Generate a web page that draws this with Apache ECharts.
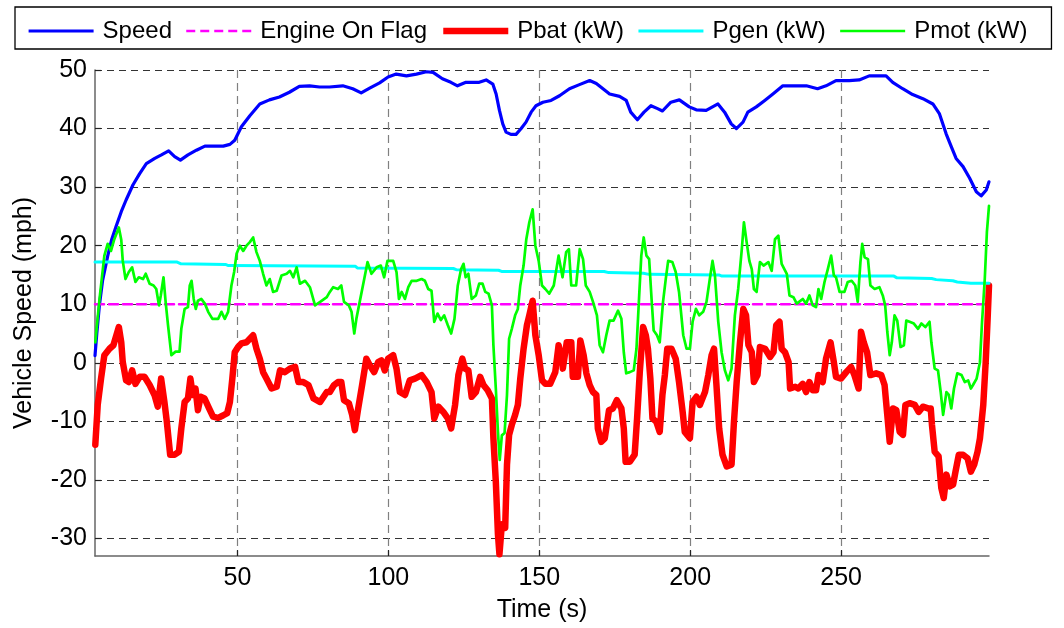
<!DOCTYPE html>
<html>
<head>
<meta charset="utf-8">
<script src="https://cdn.jsdelivr.net/npm/echarts@6/dist/echarts.min.js"></script>
<style>html,body{margin:0;padding:0;background:#fff}#c{width:1064px;height:628px}</style>
</head>
<body>
<div id="c"></div>
<script>
// ---- data: [time (s), value] ----
const seriesNames = ['Speed', 'Engine On Flag', 'Pbat (kW)', 'Pgen (kW)', 'Pmot (kW)'];
const xTicks = [50, 100, 150, 200, 250];
const yTicks = [-30, -20, -10, 0, 10, 20, 30, 40, 50];

const speed = [[2.8,1.2],[3.4,5],[4.3,10],[5.3,14],[7.0,18.2],[8.3,21],[9.8,23.3],[11.5,25.8],[13.1,27.8],[15.4,30.4],[17.6,32.3],[19.8,34],[22.6,34.9],[24.8,35.5],[27.2,36.2],[29.2,35.2],[31.1,34.6],[33.6,35.5],[36.4,36.3],[39.2,37],[41.9,37],[45.3,37],[47.5,37.3],[49.1,38],[51.3,40.3],[54.1,42.2],[57.4,44.2],[60.6,44.9],[63.9,45.4],[67.2,46.2],[70.5,47.2],[73.9,47.3],[77.2,47.1],[80.5,47.1],[84.9,47.3],[88.2,46.8],[91.0,46.1],[93.8,46.9],[97.1,47.8],[99.9,48.8],[102.6,49.3],[106.0,49],[109.3,49.3],[112.6,49.7],[114.8,49.6],[117.9,48.5],[120.7,47.9],[122.9,47.3],[125.7,47.9],[130.1,47.9],[132.4,48.3],[134.6,47.6],[135.7,45.9],[136.8,43.1],[137.9,40.8],[139.0,39.4],[140.6,39],[142.3,39],[144.0,40],[145.6,41.1],[147.3,42.8],[148.9,43.9],[151.2,44.5],[153.9,44.8],[156.7,45.6],[160.0,46.8],[163.3,47.5],[166.7,48.2],[168.9,47.7],[171.1,46.8],[173.3,45.9],[176.6,45.5],[178.8,44.8],[180.3,42.8],[182.5,41.5],[184.7,42.8],[187.0,43.9],[189.2,43.4],[190.8,43],[193.6,44.5],[196.4,44.9],[199.7,43.7],[202.0,43.2],[205.3,43.1],[209.2,44.2],[211.4,42.8],[213.6,40.8],[215.3,40],[217.5,41.1],[219.1,42.8],[221.9,43.7],[224.7,44.8],[227.4,45.9],[230.7,47.3],[234.1,47.3],[238.5,47.3],[242.2,46.8],[245.0,47.3],[248.3,48.2],[252.7,48.2],[256.0,48.3],[259.3,49],[264.9,49],[267.1,47.9],[270.4,46.8],[273.7,45.8],[277.1,45.1],[280.4,44.2],[282.6,42.5],[284.8,39.1],[286.5,36.9],[288.1,34.9],[290.4,33.5],[292.6,31.5],[294.8,29.2],[296.4,28.5],[298.1,29.5],[299.0,30.9]];

const engineOn = [[2.8,10],[299,10]];

const pbat = [[2.9,-14],[3.7,-7.2],[4.8,-2.7],[5.9,1.3],[7.6,2.4],[8.9,3],[10.7,6.1],[11.5,3.5],[12,0.1],[13.1,-3],[14,-3.3],[15.1,-1.3],[16.2,-3.6],[17.6,-2.4],[19.2,-2.4],[20.9,-3.8],[22.5,-5.5],[23.6,-7.5],[24.7,-2.7],[25.8,-6.7],[26.6,-10.1],[27.7,-15.7],[29.2,-15.7],[30.6,-15.2],[31.4,-11.2],[32.5,-6.7],[33.6,-6.1],[34.4,-2.7],[35.2,-5.5],[36.1,-4.4],[36.9,-8.1],[37.8,-5.8],[39.1,-6.1],[40.6,-7.8],[41.9,-9.2],[43.6,-9.4],[45.2,-9],[46.6,-8.6],[47.5,-6.7],[48.3,-2.7],[49.1,1.8],[50.2,2.7],[51.3,3.3],[53,3.5],[54.1,4.1],[55.2,4.7],[56.3,2.4],[57.4,0.7],[58.5,-1.6],[59.6,-2.7],[61.3,-4.4],[63,-4.1],[64.1,-1.3],[65.7,-1.6],[67.4,-1],[69.1,-0.7],[70.2,-3.3],[71.8,-3.3],[73.5,-3.8],[75.2,-6.1],[77.4,-6.7],[79.6,-5],
[80.6,-5],[82,-3.8],[83.3,-3.3],[84.4,-3.3],[85.3,-6.4],[86.9,-6.9],[88,-8.9],[88.9,-11.5],[90,-7.8],[91.3,-3.8],[92.7,0.7],[93.8,-0.4],[95.3,-1.6],[96.6,0.1],[97.7,0.4],[98.8,-1.3],[99.9,0.7],[101.6,1.3],[102.7,-1],[103.8,-5],[105.5,-5.5],[107.1,-3],[108.8,-2.7],[111,-2.1],[112.7,-3.3],[114.3,-5],[115.2,-9.5],[116.6,-7.5],[118.2,-8.4],[119.7,-9.5],[120.8,-11.2],[122.1,-7.2],[123.2,-2.1],[124.5,0.7],[125.4,-1],[126.5,-1.3],[127.6,-5.8],[129,-5],[130.4,-2.4],[131.5,-3.8],[132.9,-4.7],[134.3,-6.1],[134.8,-12.9],[135.6,-20.3],[136.3,-29.3],[136.8,-32.7],[137.6,-27.6],[138.7,-28.2],[139.3,-17.4],[140,-12.3],[140.9,-10.6],[142,-8.9],[142.9,-7.2],[143.7,-2.7],[144.8,2.4],[145.9,6.4],[146.7,8.1],[147.8,10.6],[148.7,4.7],[149.8,1.3],[150.9,-3],[152,-3.6],[153.6,-3.6],[155.3,-1.6],[156.4,3],[157.7,0.1],
[157.8,-1],[159.1,3.5],[160.6,3.5],[161.1,-2.4],[162.8,-2.4],[163.6,3.8],[164.7,1.3],[165.6,-1.8],[166.7,-3.8],[167.8,-5],[168.9,-5.5],[169.4,-11.2],[170.5,-13.5],[171.7,-12.9],[173.1,-8.1],[174.4,-7.8],[175.7,-6.4],[177.2,-7.8],[178,-11.2],[178.6,-16.9],[180,-16.9],[181.6,-15.7],[182.4,-9.5],[183.3,-1.6],[184.4,6.1],[185.3,4.7],[186,2.4],[186.8,-2.7],[187.5,-9.5],[188.8,-10.1],[189.9,-11.8],[190.8,-5.5],[191.6,-2.1],[192.4,2.4],[193.8,2.4],[195.2,0.7],[196.3,-3.3],[197.5,-8.4],[198.2,-11.8],[199.9,-12.9],[200.8,-6.7],[202.1,-5.8],[203.2,-7.2],[204.9,-5],[206,-2.1],[207.1,1.3],[207.9,2.4],[208.7,-3.8],[209.6,-11.2],[210.7,-15.7],[212.1,-17.7],[213.7,-17.4],[214.5,-10.1],[215.4,-3.3],[216.5,3.5],[217.6,9.2],[218.5,8.1],[219.3,3],[220.4,1.8],[221.1,-3.3],[222.3,-2.1],[223.1,2.7],[224.8,2.4],[226.5,1],[227.6,1.8],[228.5,6.4],[229.6,7],[230.3,2.4],[231.4,1.8],[232.6,0.1],[233.1,-4.4],[234.8,-4.1],
[235.8,-4.4],[237.3,-3.6],[238.4,-5],[239.5,-3.3],[240.6,-4.7],[241.7,-4.7],[242.5,-2.1],[243.9,-3.3],[245,0.7],[246.5,3.5],[247.6,0.1],[248.3,-2.4],[250,-2.7],[251.7,-1.6],[253.3,-0.7],[254.4,-2.1],[255.8,-4.4],[256.6,5.3],[257.5,3.5],[258.6,1.8],[259.7,-2.1],[261.6,-1.8],[263.3,-2.1],[264.4,-3.8],[265.3,-8.9],[266.1,-13.5],[267.2,-7.8],[268.3,-8.1],[269.4,-11.8],[270.5,-12.3],[271.3,-7.2],[272.7,-6.9],[274.4,-7.2],[275.7,-8.4],[277.1,-7.5],[278.8,-7.8],[279.7,-7.8],[280.1,-10.6],[281,-15.2],[282.3,-16],[283.2,-21.4],[284,-23.1],[284.9,-19.1],[286,-21.1],[287.1,-20.8],[287.9,-18.6],[289,-15.7],[290.4,-15.7],[291.9,-16.3],[293,-18.6],[294.1,-17.4],[295.2,-15.2],[296,-12.9],[297.1,-7.2],[297.9,0.1],[298.5,7],[299,13.2]];

const pgen = [[2.8,17.2],[30,17.2],[31.3,16.9],[46,16.8],[47,16.6],[89,16.5],[89.7,16.2],[121.5,16.1],[122.5,15.9],[136.5,15.8],[137.5,15.6],[171.5,15.6],[173,15.4],[184.5,15.3],[186.3,15.1],[209.5,15],[210.5,14.8],[267.5,14.8],[268.5,14.5],[280,14.4],[281.5,14.2],[287,14],[288.5,13.8],[293,13.6],[299,13.6]];

const pmot = [[2.9,3.5],[4.3,10.9],[5.9,18.3],[7,20.3],[8.1,19.1],[9.2,21.1],[10.7,23.1],[11.5,21],[12,17.4],[12.9,14.3],[14,15.5],[15.1,16.3],[16.2,13.8],[17.3,14.6],[18.7,14.3],[19.6,15.2],[20.9,13.5],[22.2,13.2],[23.1,12.6],[24,9.8],[24.6,11.5],[25.5,14.6],[26.2,10.4],[27,6.4],[28.1,1.3],[29.5,1.9],[30.8,1.9],[31.4,5.8],[32.5,9.2],[33.6,9.5],[34.2,13.2],[34.8,14],[35.5,10.9],[36.2,9.2],[36.9,10.6],[38,10.9],[39.2,10.1],[40.3,8.7],[41.7,7.5],[43.6,7.5],[44.7,8.7],[45.8,7.5],[46.9,8.7],[48,13.2],[48.9,15.5],[49.7,18.6],[50.8,20],[51.9,19.1],[53,20],[54.1,20.6],[55.2,21.4],[56.3,18.9],[57.4,17.4],[58.5,15.2],[59.6,13.2],[60.7,14.3],[61.8,12.1],[63,12.3],[64.6,14.9],[66.3,15.2],[67.4,15.7],[68.5,14.6],[69.6,16.3],[70.7,13.5],[72.4,14],[74,12.9],[75.7,9.8],[77.4,10.4],[79.6,11.2],
[80.6,12.1],[81.7,12.9],[83.3,12.6],[84.4,13.2],[85.3,10.4],[86.9,9.8],[87.8,8.7],[88.7,5],[89.4,7.5],[90.5,10.4],[92,14.3],[93.1,17.2],[94.4,15.2],[96.1,16.3],[97.5,16.6],[98.6,14.6],[99.7,17.4],[101.6,17.4],[102.7,15.5],[103.5,10.9],[104.4,12.1],[105.5,10.9],[106.6,12.9],[107.7,14],[109.4,14],[111,14.3],[112.1,14],[113.2,12.6],[114.3,12.3],[115.2,7],[116.3,8.4],[117.4,7.3],[118.5,8.1],[119.7,6.4],[120.8,5],[121.9,7.5],[123,13.2],[124.1,16],[124.9,16.9],[125.6,14.6],[126.5,15.2],[127.6,10.9],[129,11.5],[130.1,13.5],[131.2,13.5],[132.1,12.1],[133.2,11.8],[134.3,9.8],[134.8,3],[135.6,-4.4],[136.3,-11.8],[136.9,-16.6],[137.6,-12.4],[138.5,-12],[139.3,-5.5],[140,4.1],[140.9,5.8],[142,8.1],[142.9,9.2],[143.7,13.2],[144.8,16.6],[145.7,21.1],[146.7,24],[147.8,26.2],[148.7,20],[149.8,17.4],[150.9,13.2],[152,12.6],[153.3,11.8],[154.8,13.2],[156.4,18.3],[157.7,14.6],
[158.9,18.9],[159.8,19.4],[160.6,13.2],[162.2,13.2],[163.4,19.4],[164.5,17.7],[165.4,13.2],[166.7,12.1],[167.8,10.4],[169.1,8.1],[170,3],[171.1,1.8],[172.2,4.7],[173.3,7.2],[174.6,7.2],[176.1,8.9],[177.2,7.5],[178,1.8],[178.8,-1.8],[180,-1.6],[181.3,-1.3],[182.2,2.4],[183.1,11.5],[183.8,18.3],[184.6,21.4],[185.5,18.3],[186.4,17.7],[187.2,10.9],[187.9,5.5],[189,4.7],[189.9,3.5],[191,10.4],[191.9,14.3],[192.7,17.4],[194.1,17.2],[195.2,15.5],[196.3,12.1],[197.7,4.7],[198.8,2.4],[199.9,2.4],[200.8,7],[201.9,9.2],[203,8.1],[204.3,8.7],[205.4,10.4],[206.5,14.3],[207.4,17.4],[208.2,14.9],[209.3,7],[210.4,1.8],[211.5,-1.3],[212.6,-3],[213.7,-1],[214.8,8.1],[215.9,12.6],[217.1,19.4],[217.8,24],[218.7,20.6],[219.6,17.4],[220.4,16],[221.1,12.6],[222,12.1],[223.1,17.2],[224.3,16.6],[225.9,17.2],[227,15.7],[228.1,21.1],[229.2,21.7],[230.3,16.9],[232,15.2],[232.9,11.5],[234.2,11.2],[235.3,10.1],
[235.8,10.1],[237.3,10.9],[238.4,10.1],[239.5,11.5],[240.6,9.8],[241.7,9.5],[242.5,12.6],[243.4,10.9],[244.5,13.8],[245.6,16],[246.7,18.3],[247.6,14.9],[248.3,14.6],[249.5,12.1],[251.1,12.1],[252.2,13.8],[253.5,14],[254.7,13.2],[255.5,10.4],[256.4,17.2],[257,20.3],[257.8,18],[258.9,17.7],[259.7,13.2],[261.1,12.6],[262.7,12.9],[263.8,11.5],[264.6,9.8],[265.3,5.3],[266.1,1.3],[266.8,3.5],[267.7,8.1],[268.6,7.2],[269.7,2.7],[270.8,3],[271.6,7.2],[272.7,7],[274.1,6.7],[275.5,5.8],[276.6,6.7],[277.9,6.1],[279.3,7],[279.9,3.5],[281,-1],[282.1,-1.3],[283,-5],[283.8,-8.9],[284.9,-5],[285.7,-5.5],[286.5,-7.8],[287.4,-4.4],[288.5,-1.8],[289.9,-2.1],[291,-3.3],[292.1,-3],[293,-4.4],[293.7,-3.8],[294.9,-2.7],[296,0.1],[296.7,7],[297.6,14.3],[298.3,22.3],[299,26.8]];

const xRange = [2.8, 299];
const yRange = [-33, 50];

// ---- chart ----
const FONT = '"Liberation Sans", Arial, Helvetica, sans-serif';
const chart = echarts.init(document.getElementById('c'), null, {renderer: 'canvas'});

const colors = ['#0000FF', '#FF00FF', '#FF0000', '#00FFFF', '#00FF00'];
const widths = [3.2, 2.5, 6.5, 3, 2.7];
const types = ['solid', [9, 5], 'solid', 'solid', 'solid'];

function mkLine(i, data) {
  return {
    name: seriesNames[i], type: 'line', data: data, symbol: 'none', showSymbol: false,
    lineStyle: {color: colors[i], width: widths[i], type: types[i], cap: 'round', join: 'round'},
    itemStyle: {color: colors[i]},
    emphasis: {disabled: true}, clip: true, z: 2 + i, animation: false
  };
}

function legendItem(i) {
  return {
    name: seriesNames[i],
    itemStyle: {opacity: 0},
    lineStyle: {color: colors[i], width: widths[i], type: types[i], cap: 'butt'}
  };
}

chart.setOption({
  animation: false,
  backgroundColor: '#fff',
  grid: {left: 95, right: 75, top: 70, bottom: 70, containLabel: false},
  legend: {
    left: 15, top: 7,
    padding: [12, 24, 6, 12],
    itemGap: 13, itemWidth: 65, itemHeight: 14,
    borderColor: '#000', borderWidth: 1.3,
    itemStyle: {opacity: 0},
    formatter: name => name === seriesNames[2] ? '{w|' + name + '}' : name,
    textStyle: {fontFamily: FONT, fontSize: 24, color: '#000', padding: [0, 0, 0, 4],
      rich: {w: {fontFamily: FONT, fontSize: 24, color: '#000', padding: [0, 8, 0, 0]}}},
    data: [legendItem(0), legendItem(1), legendItem(2), legendItem(3), legendItem(4)]
  },
  xAxis: {
    type: 'value', min: xRange[0], max: xRange[1], splitNumber: 6,
    name: 'Time (s)', nameLocation: 'middle', nameGap: 42,
    nameTextStyle: {fontFamily: FONT, fontSize: 25, color: '#000'},
    axisLine: {onZero: false, lineStyle: {color: '#666', width: 1.5}},
    axisTick: {inside: true, length: 6, lineStyle: {color: '#222', width: 1.2}},
    axisLabel: {fontFamily: FONT, fontSize: 25, color: '#000', margin: 10,
      showMinLabel: false, showMaxLabel: false,
      formatter: v => xTicks.indexOf(Math.round(v * 1000) / 1000) >= 0 ? String(v) : ''},
    splitLine: {show: true, showMinLine: false, showMaxLine: false,
      lineStyle: {color: '#808080', width: 1.2, type: [8, 5]}}
  },
  yAxis: {
    type: 'value', min: yRange[0], max: yRange[1], splitNumber: 8,
    name: 'Vehicle Speed (mph)', nameLocation: 'middle', nameGap: 58, nameRotate: 90,
    nameTextStyle: {fontFamily: FONT, fontSize: 25, color: '#000'},
    axisLine: {show: true, onZero: false, lineStyle: {color: '#666', width: 1.5}},
    axisTick: {show: true, inside: true, length: 6, lineStyle: {color: '#222', width: 1.2}},
    axisLabel: {fontFamily: FONT, fontSize: 25, color: '#000', margin: 8,
      showMinLabel: false,
      formatter: v => yTicks.indexOf(Math.round(v * 1000) / 1000) >= 0 ? String(v) : ''},
    splitLine: {show: true, showMinLine: false,
      lineStyle: {color: '#333', width: 1, type: [7, 5]}}
  },
  series: [
    mkLine(0, speed),
    mkLine(1, engineOn),
    mkLine(2, pbat),
    mkLine(3, pgen),
    mkLine(4, pmot)
  ]
});
</script>
</body>
</html>
